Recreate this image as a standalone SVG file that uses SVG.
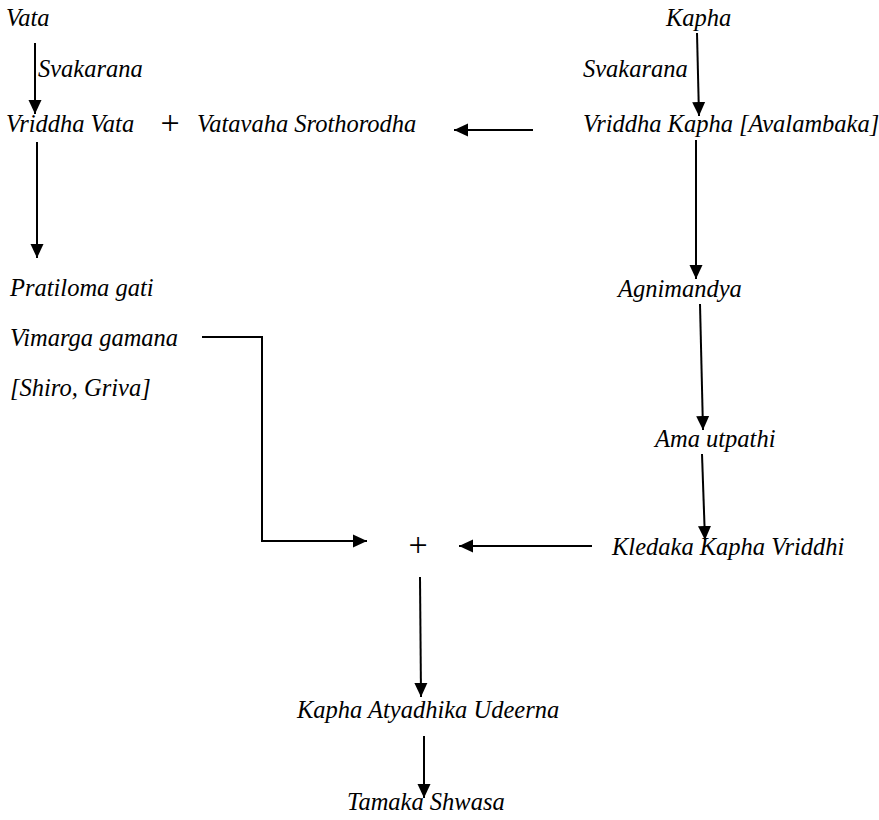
<svg xmlns="http://www.w3.org/2000/svg" width="879" height="820" viewBox="0 0 879 820">
<defs>
<style>
text{font-family:"Liberation Serif","Times New Roman",serif;font-style:italic;font-size:24.5px;fill:#000}
.plus{font-style:normal;font-size:34px}
.c{stroke:#000;stroke-width:2;fill:none}
</style>
<marker id="ah" markerUnits="userSpaceOnUse" markerWidth="16" markerHeight="16" viewBox="0 0 16 16" refX="14" refY="8" orient="auto">
<path d="M0,1.5 L14,8 L0,14.5 Z" fill="#000"/>
</marker>
</defs>
<rect width="879" height="820" fill="#fff"/>
<g id="vata"><text x="6" y="26">Vata</text></g>
<g id="svakarana-left"><text x="38" y="77">Svakarana</text></g>
<g id="vriddha-vata"><text x="6" y="132">Vriddha Vata</text></g>
<g id="plus-top"><text class="plus" x="170" y="134" text-anchor="middle">+</text></g>
<g id="vatavaha"><text x="197" y="132">Vatavaha Srothorodha</text></g>
<g id="kapha"><text x="666" y="26">Kapha</text></g>
<g id="svakarana-right"><text x="583" y="77">Svakarana</text></g>
<g id="vriddha-kapha"><text x="583" y="132">Vriddha Kapha [Avalambaka]</text></g>
<g id="pratiloma"><text x="10" y="296">Pratiloma gati</text></g>
<g id="vimarga"><text x="10" y="346">Vimarga gamana</text></g>
<g id="shiro"><text x="10" y="396">[Shiro, Griva]</text></g>
<g id="agnimandya"><text x="618" y="297">Agnimandya</text></g>
<g id="ama"><text x="655" y="447">Ama utpathi</text></g>
<g id="kledaka"><text x="612" y="555">Kledaka Kapha Vriddhi</text></g>
<g id="plus-mid"><text class="plus" x="418" y="556" text-anchor="middle">+</text></g>
<g id="udeerna"><text x="297" y="718">Kapha Atyadhika Udeerna</text></g>
<g id="tamaka"><text x="347" y="810">Tamaka Shwasa</text></g>
<g id="connectors">
<line class="c" x1="35" y1="43" x2="35" y2="114" marker-end="url(#ah)"/>
<line class="c" x1="37" y1="142" x2="37" y2="258" marker-end="url(#ah)"/>
<line class="c" x1="697" y1="33" x2="699" y2="116" marker-end="url(#ah)"/>
<line class="c" x1="533" y1="130" x2="454" y2="130" marker-end="url(#ah)"/>
<line class="c" x1="696" y1="140" x2="696" y2="279" marker-end="url(#ah)"/>
<line class="c" x1="700" y1="304" x2="703" y2="430" marker-end="url(#ah)"/>
<line class="c" x1="702" y1="454" x2="705" y2="540" marker-end="url(#ah)"/>
<polyline class="c" points="202,337 262,337 262,541 367,541" marker-end="url(#ah)"/>
<line class="c" x1="592" y1="546" x2="459" y2="546" marker-end="url(#ah)"/>
<line class="c" x1="420" y1="577" x2="421" y2="697" marker-end="url(#ah)"/>
<line class="c" x1="424" y1="736" x2="424" y2="798" marker-end="url(#ah)"/>
</g>
</svg>
